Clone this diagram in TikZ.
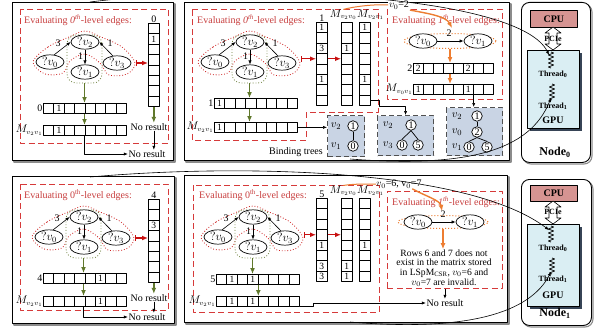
\documentclass[tikz,border=0pt]{standalone}
\usepackage{fontspec}
\setmainfont{Liberation Serif}
\usetikzlibrary{arrows.meta,shapes.geometric,calc,decorations.pathmorphing}

\definecolor{boxred}{RGB}{214,58,58}
\definecolor{titlered}{RGB}{200,62,62}
\definecolor{arrred}{RGB}{200,16,16}
\definecolor{dotred}{RGB}{205,30,30}
\definecolor{olivegr}{RGB}{96,120,44}
\definecolor{olivedot}{RGB}{105,125,55}
\definecolor{orng}{RGB}{237,125,49}
\definecolor{treefill}{RGB}{201,212,228}
\definecolor{treeline}{RGB}{80,80,80}
\definecolor{gpufill}{RGB}{218,238,243}
\definecolor{gpushadow}{RGB}{55,68,86}
\definecolor{cpufill}{RGB}{214,148,146}

\tikzset{
  base/.style={font=\fontsize{10}{11}\selectfont},
  panel/.style={draw=black, line width=0.8pt, fill=white},
  panelshade/.style={draw=black!45, line width=1.1pt},
  evalbox/.style={draw=boxred, line width=0.9pt, dash pattern=on 6pt off 3.5pt},
  evaltitle/.style={text=titlered, anchor=west, inner sep=0pt, font=\fontsize{10}{11}\selectfont},
  qv/.style={ellipse, draw, line width=0.7pt, fill=white, minimum width=28pt, minimum height=12pt, inner sep=0pt, font=\fontsize{11.5}{12}\selectfont},
  cell/.style={draw, line width=0.7pt, anchor=north west, inner sep=0pt, font=\fontsize{9.5}{10}\selectfont},
  lbl/.style={inner sep=0.5pt, font=\fontsize{10}{11}\selectfont},
  mlbl/.style={inner sep=0pt, font=\fontsize{10.5}{11}\selectfont},
  arr/.style={-{Latex[length=4pt,width=3.2pt]}, line width=0.6pt},
  redarr/.style={{Bar[width=6pt]}-{Latex[length=6pt,width=5pt]}, draw=arrred, line width=1.4pt},
  redarrb/.style={-{Latex[length=6pt,width=5pt]}, draw=arrred, line width=1.4pt},
  grarr/.style={-{Latex[length=6pt,width=5pt]}, draw=olivegr, line width=1.6pt},
  orarr/.style={-{Latex[length=6pt,width=5pt]}, draw=orng, line width=1.4pt},
  orline/.style={draw=orng, line width=1pt},
  reddotted/.style={draw=dotred, line width=0.8pt, dotted},
  grgroup/.style={draw=olivedot, line width=0.8pt, dotted, rounded corners=9pt, minimum width=35pt, minimum height=48pt, inner sep=0pt},
  orgroup/.style={ellipse, draw=orng, line width=1pt, dotted, inner sep=0pt},
  treebox/.style={draw=treeline, fill=treefill, line width=1.1pt, dash pattern=on 5pt off 3pt, anchor=north west, inner sep=0pt},
  tc/.style={circle, draw, fill=white, line width=0.7pt, minimum size=10.5pt, inner sep=0pt, font=\fontsize{10}{10}\selectfont},
  tv/.style={inner sep=0pt, font=\fontsize{11}{12}\selectfont},
  nodebox/.style={draw, line width=0.9pt, rounded corners=8pt, fill=white, anchor=north west},
  cpubox/.style={draw, line width=0.7pt, fill=cpufill, anchor=north west, inner sep=0pt, font=\bfseries\fontsize{10}{11}\selectfont},
  gpubox/.style={draw, line width=0.6pt, fill=gpufill, anchor=north west, inner sep=0pt},
  thr/.style={inner sep=0pt, font=\bfseries\fontsize{8}{9}\selectfont},
  zz/.style={line width=0.7pt, decorate, decoration={zigzag, segment length=4pt, amplitude=2.6pt}},
}

% horizontal vector: name, x, y, cell width, entries
\newcommand\hvec[5]{%
  \foreach \cv [count=\ci from 0] in {#5}{%
    \node[cell, minimum width=#4pt, minimum height=10pt] (#1-\ci) at ({#2+\ci*#4},#3) {\cv};}}
% vertical vector: name, x, y, entries
\newcommand\vvec[4]{%
  \foreach \cv [count=\ci from 0] in {#4}{%
    \node[cell, minimum width=11pt, minimum height=10.4pt] (#1-\ci) at (#2,{#3+\ci*10.4}) {\cv};}}
% query graph with its two groupings: prefix, x, y of ?v2
\newcommand\qgraph[3]{%
  \begin{scope}[shift={(#2,#3)}]
    \draw[reddotted] plot[smooth cycle, tension=0.55] coordinates {(-52,20) (-37,5) (-16,-5) (0,-11) (16,-5) (37,5) (50,21) (42,32) (24,33) (15,21) (0,12) (-15,19) (-22,31) (-40,32)};
    \node[grgroup] (#1grp) at (-0.5,17) {};
    \node[qv] (#1v2) at (0,0) {$?v_2$};
    \node[qv] (#1v0) at (-35,20) {$?v_0$};
    \node[qv] (#1v3) at (32,21) {$?v_3$};
    \node[qv] (#1v1) at (0,30) {$?v_1$};
    \coordinate (#1out) at (51,21);
    \draw[arr] (#1v0.60) -- (#1v2.west);
    \draw[arr] (#1v3.120) -- (#1v2.east);
    \draw[arr] (#1v2.south) -- (#1v1.north);
    \node[lbl] at (-27,1) {3};
    \node[lbl] at (25,1) {1};
    \node[lbl] at (-4.5,14) {1};
  \end{scope}}
% framed panel with a grey offset edge
\newcommand\drawpanel[4]{%
  \draw[panelshade] ({#1+2},{#2+2}) rectangle ({#3+2},{#4+2});
  \draw[panel] (#1,#2) rectangle (#3,#4);}

\begin{document}
\begin{tikzpicture}[x=1pt,y=-1pt, base, line join=round]
\useasboundingbox (0,0) rectangle (596,329);
\clip (0,0) rectangle (596,329);
\fill[white] (0,0) rectangle (596,329);

% ===== Node 0, first pass =====
\drawpanel{12}{2}{173}{160}
\draw[evalbox] (20,9) rectangle (168,143);
\node[evaltitle] at (24,20) {Evaluating \textit{0}\textsuperscript{\textit{th}}-level edges:};
\vvec{colA}{148}{23}{{},1,{},{},{},{},{},{}}
\node[lbl, anchor=south] at (colA-0.north) {0};
\qgraph{gA}{85}{42}
\draw[redarr] (gAout) -- (gAout -| colA-0.west);
\hvec{rowA}{43}{103}{10.4}{{},1,{},{},{},{},{},{}}
\node[lbl, anchor=east] at (rowA-0.west) {0};
\hvec{MrowA}{43}{125}{10.4}{{},1,{},{},{},{},{},{}}
\node[mlbl, anchor=east] at (MrowA-0.west) {$M_{v_2v_1}$};
\node[lbl] (nrA1) at (149,127) {No result};
\node[lbl] (nrA2) at (147,154) {No result};
\draw[grarr] (gAgrp.south) -- (gAgrp.south |- rowA-0.north);
\draw[grarr] (gAgrp.south |- rowA-0.south) -- (gAgrp.south |- MrowA-0.north);
\draw[grarr] (colA-7.south) -- (colA-7.south |- nrA1.north);
\draw[arr] (colA-7.south |- nrA1.south) -- (colA-7.south |- nrA2.north);
\draw[arr] (gAgrp.south |- MrowA-0.south) |- (nrA2.west);

% ===== Node 0, second pass =====
\drawpanel{184}{2}{509}{160}
\draw[evalbox] (192,9) -- (378,9) -- (378,112) -- (306,112) -- (306,140) -- (192,140) -- cycle;
\node[evaltitle] at (197,20) {Evaluating \textit{0}\textsuperscript{\textit{th}}-level edges:};
\qgraph{gB}{250}{42}
\vvec{colB1}{316}{22}{1,{},3,{},{},1,{},{}}
\node[lbl, anchor=south] at (colB1-0.north) {1};
\vvec{colB2}{341}{22}{{},{},1,{},{},{},{},{}}
\vvec{colB3}{359}{22}{1,{},{},{},{},1,{},{}}
\node[mlbl, anchor=south east] (mB2) at (357,20) {$M_{v_2v_0}$};
\node[mlbl, anchor=south west] (mB3) at (357,20) {$M_{v_2v_1}$};
\draw[redarr] (gBout |- colB1-3.west) -- (colB1-3.west);
\draw[redarrb] (colB1-3.east) -- (colB2-3.west);
\hvec{rowB}{214}{98}{10.4}{1,{},{},{},{},{},{},{}}
\node[lbl, anchor=east] at (rowB-0.west) {1};
\hvec{MrowB}{214}{122}{10.4}{1,{},{},{},{},{},{},{}}
\node[mlbl, anchor=east] at (MrowB-0.west) {$M_{v_2v_1}$};
\draw[grarr] (gBgrp.south) -- (gBgrp.south |- rowB-0.north);
\draw[grarr] (gBgrp.south |- rowB-0.south) -- (gBgrp.south |- MrowB-0.north);

% binding trees
\node[treebox, minimum width=37pt, minimum height=41pt] (tb1) at (327,115) {};
\node[tv] at (336,126) {$v_2$};
\node[tc] (tb1a) at (353,126) {1};
\node[tv] at (336,146) {$v_1$};
\node[tc] (tb1b) at (353,146) {0};
\draw[line width=0.7pt] (tb1a) -- (tb1b);

\node[treebox, minimum width=56pt, minimum height=40pt] (tb2) at (377,115) {};
\node[tv] at (388,125) {$v_2$};
\node[tc] (tb2a) at (411,125) {1};
\node[tv] at (388,145) {$v_3$};
\node[tc] (tb2b) at (402,145) {0};
\node[tc] (tb2c) at (418,145) {5};
\draw[line width=0.7pt] (tb2a.south) -- (tb2b.north);
\draw[line width=0.7pt] (tb2a.south) -- (tb2c.north);

\node[treebox, minimum width=56pt, minimum height=48pt] (tb3) at (446,107) {};
\node[tv] at (457,116) {$v_2$};
\node[tc] (tb3a) at (477,116) {1};
\node[tv] at (457,132) {$v_0$};
\node[tc] (tb3b) at (477,132) {2};
\node[tv] at (457,147) {$v_1$};
\node[tc] (tb3c) at (469,147) {0};
\node[tc] (tb3d) at (487,147) {5};
\draw[line width=0.7pt] (tb3a) -- (tb3b);
\draw[line width=0.7pt] (tb3b.south) -- (tb3c.north);
\draw[line width=0.7pt] (tb3b.south) -- (tb3d.north);

\node[lbl] (bt) at (296,152) {Binding trees};
\draw[arr] (MrowB-7.east) -- (MrowB-7.east -| tb1.west);
\draw[arr] (colB3-7.east) -- ++(9,0) |- ($(tb2.north)+(0,-9)$) -- (tb2.north);

% first-level edges, node 0
\draw[evalbox] (387,9) rectangle (502,99);
\node[evaltitle] at (392,20) {Evaluating \textit{1}\textsuperscript{\textit{th}}-level edges:};
\node[orgroup, minimum width=92pt, minimum height=15pt] (oeB) at (450,41) {};
\node[qv] (hB0) at (423,41) {$?v_0$};
\node[qv] (hB1) at (478,41) {$?v_1$};
\draw[arr] (hB0.east) -- (hB1.west);
\node[lbl] at (449,33) {2};
\hvec{rowB2}{413}{63}{10}{2,{},{},{},{},2,{},{}}
\node[lbl, anchor=east] at (rowB2-0.west) {2};
\hvec{MrowB2}{413}{84}{10}{1,{},{},{},{},1,{},{}}
\node[mlbl, anchor=east] at (MrowB2-0.west) {$M_{v_0v_1}$};
\draw[orarr] (oeB.south) -- (oeB.south |- rowB2-0.north);
\draw[orarr] (oeB.south |- rowB2-0.south) -- (oeB.south |- MrowB2-0.north);
\draw[arr] (MrowB2-5.south east) -- (MrowB2-5.south east |- tb3.north);

\node[lbl, fill=white, inner sep=0.8pt] (lvB) at (399,5) {$v_0$=2};
\draw[orline] (mB2.north) .. controls (352,7) and (372,4) .. (lvB.west);
\draw[orarr] (lvB.south east) .. controls (425,13) and (446,16) .. ($(oeB.north)+(2,-5)$);

% ===== Node 1, first pass =====
\drawpanel{12}{176}{174}{323}
\draw[evalbox] (20,184) rectangle (168,310);
\node[evaltitle] at (24,195) {Evaluating 0\textsuperscript{th}-level edges:};
\vvec{colC}{148}{199}{{},{},3,{},{},{},{},{}}
\node[lbl, anchor=south] at (colC-0.north) {4};
\qgraph{gC}{84}{217}
\draw[redarr] (gCout) -- (gCout -| colC-0.west);
\hvec{rowC}{43}{273}{10.4}{{},{},{},{},{},1,{},{}}
\node[lbl, anchor=east] at (rowC-0.west) {4};
\hvec{MrowC}{43}{296}{10.4}{{},{},{},{},{},1,{},{}}
\node[mlbl, anchor=east] at (MrowC-0.west) {$M_{v_2v_1}$};
\node[lbl] (nrC1) at (149,298) {No result};
\node[lbl] (nrC2) at (147,317) {No result};
\draw[grarr] (gCgrp.south) -- (gCgrp.south |- rowC-0.north);
\draw[grarr] (gCgrp.south |- rowC-0.south) -- (gCgrp.south |- MrowC-0.north);
\draw[grarr] (colC-7.south) -- (colC-7.south |- nrC1.north);
\draw[arr] (colC-7.south |- nrC1.south) -- (colC-7.south |- nrC2.north);
\draw[arr] (gCgrp.south |- MrowC-0.south) |- (nrC2.west);

% ===== Node 1, second pass =====
\drawpanel{184}{175}{507}{322}
\draw[evalbox] (193,185) rectangle (379,312);
\node[evaltitle] at (199,195) {Evaluating 0\textsuperscript{th}-level edges:};
\qgraph{gD}{253}{217}
\vvec{colD1}{316}{198}{{},{},{},{},1,{},3,3}
\node[lbl, anchor=south] at (colD1-0.north) {5};
\vvec{colD2}{341}{198}{{},{},{},{},{},{},1,1}
\vvec{colD3}{359}{198}{{},{},{},{},1,{},{},{}}
\node[mlbl, anchor=south east] (mD2) at (357,196) {$M_{v_2v_0}$};
\node[mlbl, anchor=south west] (mD3) at (357,196) {$M_{v_2v_1}$};
\draw[redarr] (gDout |- colD1-3.west) -- (colD1-3.west);
\draw[redarrb] (colD1-3.east) -- (colD2-3.west);
\hvec{rowD}{216}{274}{10.4}{{},1,{},1,{},{},{},{}}
\node[lbl, anchor=east] at (rowD-0.west) {5};
\hvec{MrowD}{216}{296}{10.4}{{},1,{},1,{},{},{},{}}
\node[mlbl, anchor=east] at (MrowD-0.west) {$M_{v_2v_1}$};
\draw[grarr] (gDgrp.south) -- (gDgrp.south |- rowD-0.north);
\draw[grarr] (rowD-3.south east) -- (rowD-3.south east |- MrowD-0.north);

% first-level edges, node 1
\node[evalbox, minimum width=115pt, minimum height=97pt, anchor=north west, inner sep=0pt] (rbD) at (387,191) {};
\node[evaltitle] at (392,202) {Evaluating \textit{1}\textsuperscript{\textit{th}}-level edges:};
\node[orgroup, minimum width=90pt, minimum height=13pt] (oeD) at (443,222) {};
\node[qv] (hD0) at (418,222) {$?v_0$};
\node[qv] (hD1) at (470,222) {$?v_1$};
\draw[arr] (hD0.east) -- (hD1.west);
\node[lbl] at (443,214) {2};
\node[align=center, inner sep=0pt, font=\fontsize{9.6}{9.7}\selectfont] (rowsD) at (444,268) {Rows 6 and 7 does not\\exist in the matrix stored\\in LSpM\textsubscript{CSR}, $v_0$=6 and\\$v_0$=7 are invalid.};
\draw[orarr] (oeD.south) -- (oeD.south |- rowsD.north);
\node[lbl] (nrD) at (445,303) {No result};
\draw[arr] (rbD.south) -- (rbD.south |- nrD.north);
\draw[arr] (MrowD-7.south east) -- ++(13,0) |- (nrD.west);

\node[lbl] (lvD) at (399,184) {$v_0$=6, v$_0$=7};
\draw[orline] (mD2.north) .. controls (352,184) and (362,184) .. (lvD.west);
\draw[orarr] ($(lvD.south east)+(-10,0)$) .. controls (425,196) and (440,200) .. ($(oeD.north)+(-1,-4)$);

% ===== compute nodes =====
\draw[panelshade, rounded corners=8pt] (523,4) rectangle (592,164);
\node[nodebox, minimum width=69pt, minimum height=160pt] (N0) at (521,2) {};
\node[cpubox, minimum width=47pt, minimum height=17pt] (cpu0) at (530,10) {CPU};
\fill[gpushadow] (530,53) rectangle (582,131);
\node[gpubox, minimum width=52pt, minimum height=78pt] (gpu0) at (527,50) {};
\draw[fill=white, line width=0.6pt] (553,27) -- (561,33) -- (557,33) -- (557,44) -- (561,44) -- (553,50) -- (545,44) -- (549,44) -- (549,33) -- (545,33) -- cycle;
\node[thr] at (553,39) {PCIe};
\draw[zz] (551,52) -- (551,68);
\coordinate (n0t0) at (549,55);
\node[thr] at (553,74) {Thread\textsubscript{0}};
\draw[zz] (552,84) -- (552,100);
\coordinate (n0t1) at (551,98);
\node[thr] at (553,106) {Thread\textsubscript{1}};
\node[font=\bfseries\fontsize{10}{11}\selectfont, inner sep=0pt] at (553,120) {GPU};
\node[font=\bfseries\fontsize{12}{13}\selectfont, inner sep=0pt] at (555,152) {Node\textsubscript{0}};

\draw[panelshade, rounded corners=8pt] (523,181) rectangle (593,327);
\node[nodebox, minimum width=70pt, minimum height=146pt] (N1) at (521,179) {};
\node[cpubox, minimum width=47pt, minimum height=16pt] (cpu1) at (530,185) {CPU};
\fill[gpushadow] (530,227) rectangle (582,309);
\node[gpubox, minimum width=52pt, minimum height=82pt] (gpu1) at (527,224) {};
\draw[fill=white, line width=0.6pt] (553,201) -- (561,207) -- (557,207) -- (557,218) -- (561,218) -- (553,224) -- (545,218) -- (549,218) -- (549,207) -- (545,207) -- cycle;
\node[thr] at (553,212) {PCIe};
\draw[zz] (551,226) -- (551,242);
\coordinate (n1t0) at (549,230);
\node[thr] at (553,248) {Thread\textsubscript{0}};
\draw[zz] (552,258) -- (552,274);
\coordinate (n1t1) at (551,272);
\node[thr] at (553,279) {Thread\textsubscript{1}};
\node[font=\bfseries\fontsize{10}{11}\selectfont, inner sep=0pt] at (553,295) {GPU};
\node[font=\bfseries\fontsize{12}{13}\selectfont, inner sep=0pt] at (555,313) {Node\textsubscript{1}};

% ===== dispatch of the bindings to the GPU threads =====
\coordinate (cA) at (90,2);
\coordinate (cB) at (350,159);
\coordinate (cC) at (90,177);
\coordinate (cD) at (350,322);
\draw[arr] (cA) .. controls (250,-18) and (520,-5) .. (n0t0);
\draw[arr] (cB) .. controls (470,168) and (530,150) .. (n0t1);
\draw[arr] (cC) .. controls (250,163) and (470,170) .. (n1t0);
\draw[arr] (cD) .. controls (470,332) and (530,312) .. (n1t1);
\end{tikzpicture}
\end{document}
